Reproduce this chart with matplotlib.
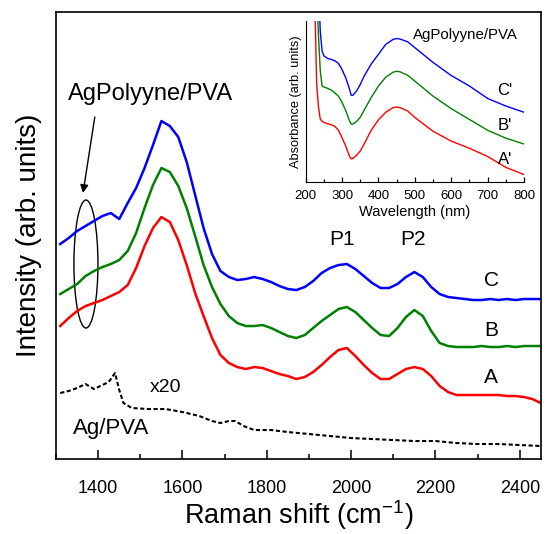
import numpy as np
import matplotlib
matplotlib.use("Agg")
import matplotlib.pyplot as plt
from matplotlib.patches import Ellipse
from matplotlib.ticker import MultipleLocator

plt.rcParams['font.family'] = ['Liberation Sans', 'DejaVu Sans']

# Raman spectra, shift in cm-1, intensity in arbitrary (offset) units
raman_shift = np.arange(1310, 2451, 20)
spec_C = [215, 221, 228, 233, 238, 243, 246, 240, 256, 271,
          291, 314, 338, 333, 322, 297, 264, 231, 205, 188,
          182, 179, 180, 182, 180, 177, 173, 170, 169, 172,
          178, 186, 191, 194, 195, 190, 183, 176, 171, 171,
          175, 182, 187, 182, 172, 165, 162, 161, 160, 159,
          159, 160, 159, 160, 159, 160, 160, 160]
spec_B = [165, 170, 175, 183, 188, 192, 195, 199, 208, 226,
          251, 274, 291, 287, 273, 251, 223, 194, 172, 155,
          143, 136, 133, 133, 134, 131, 127, 123, 121, 124,
          131, 138, 144, 150, 152, 147, 139, 131, 124, 123,
          131, 142, 149, 143, 128, 116, 113, 112, 112, 112,
          113, 112, 112, 113, 112, 113, 113, 113]
spec_A = [133, 141, 148, 153, 156, 159, 163, 167, 174, 191,
          213, 231, 242, 237, 219, 194, 166, 143, 121, 104,
          96, 92, 90, 92, 91, 88, 85, 83, 80, 82,
          87, 94, 102, 109, 111, 103, 94, 86, 80, 80,
          85, 90, 92, 90, 83, 73, 67, 64, 64, 64,
          64, 64, 64, 63, 63, 62, 60, 56]

# Ag/PVA reference spectrum (x20)
ag_shift = [1310, 1330, 1350, 1370, 1390, 1410, 1425, 1440, 1450, 1460,
            1480, 1520, 1560, 1600, 1640, 1670, 1690, 1710, 1725, 1745,
            1770, 1810, 1850, 1900, 1950, 2000, 2050, 2100, 2150, 2200,
            2250, 2300, 2350, 2400, 2450]
ag_spec = [66, 68, 71, 75, 70, 74, 77, 86, 69, 56,
           51, 50, 50, 47, 43, 38, 36, 38, 38, 33,
           29, 29, 27, 25, 23, 21, 20, 19, 18, 18,
           16, 15, 15, 14, 13]

# UV-vis absorbance for the inset
wavelength = [225, 230, 235, 240, 245, 250, 260, 270, 280, 290,
              300, 310, 320, 325, 330, 340, 350, 360, 380, 400,
              420, 440, 450, 460, 480, 500, 550, 600, 650, 700,
              750, 800]
abs_C = [700, 700, 600, 460, 400, 385, 377, 374, 370, 362,
         343, 318, 285, 265, 265, 278, 298, 322, 360, 390,
         420, 435, 438, 436, 428, 410, 365, 325, 293, 255,
         232, 213]
abs_B = [600, 600, 450, 340, 293, 290, 286, 281, 272, 262,
         243, 218, 188, 177, 177, 185, 198, 218, 258, 293,
         320, 335, 338, 336, 326, 308, 262, 224, 191, 158,
         134, 116]
abs_A = [560, 303, 230, 192, 186, 182, 178, 175, 170, 158,
         135, 110, 80, 71, 72, 82, 95, 115, 158, 190,
         213, 227, 229, 227, 217, 197, 155, 125, 103, 78,
         45, 23]

raman_ticks = [1400, 1600, 1800, 2000, 2200, 2400]
uv_ticks = [200, 300, 400, 500, 600, 700, 800]

fig = plt.figure(figsize=(5.53, 5.34), dpi=100)
ax = fig.add_axes([0.1013, 0.1404, 0.8767, 0.8371])

ax.plot(raman_shift, spec_C, color='#0000ff', lw=1.8)
ax.plot(raman_shift, spec_B, color='#008000', lw=1.8)
ax.plot(raman_shift, spec_A, color='#ff0000', lw=1.8)
ax.plot(ag_shift, ag_spec, color='black', lw=1.5, linestyle=(0, (2, 1.2)))

ax.set_xlim(1300, 2450)
ax.set_ylim(0, 447)
ax.set_xticks(raman_ticks)
ax.xaxis.set_minor_locator(MultipleLocator(100))
ax.set_yticks([])
ax.tick_params(axis='x', which='major', direction='in', length=6.5, width=1.1,
               labelsize=13, pad=15)
ax.tick_params(axis='x', which='minor', direction='in', length=3.5, width=1.1)
for sp in ax.spines.values():
    sp.set_linewidth(1.2)

ax.set_xlabel('Raman shift (cm$^{\\mathregular{-1}}$)', fontsize=19.5, labelpad=1)
ax.set_ylabel('Intensity (arb. units)', fontsize=20, labelpad=10)

ax.text(1328, 359, 'AgPolyyne/PVA', fontsize=17, va='baseline')
ax.annotate('', xy=(1364, 266), xytext=(1392, 342),
            arrowprops=dict(arrowstyle='-|>', color='black', lw=1.0,
                            mutation_scale=12, shrinkA=0, shrinkB=0))
ax.add_patch(Ellipse((1371, 195), 57, 128, fill=False, lw=1.0, color='black'))

ax.text(1979, 214, 'P1', fontsize=15, ha='center', va='baseline')
ax.text(2147, 214, 'P2', fontsize=15, ha='center', va='baseline')
ax.text(2332, 179, 'C', fontsize=15, ha='center', va='center')
ax.text(2332, 129, 'B', fontsize=15, ha='center', va='center')
ax.text(2332, 82, 'A', fontsize=15, ha='center', va='center')
ax.text(1560, 72, 'x20', fontsize=14, ha='center', va='center')
ax.text(1340, 31, 'Ag/PVA', fontsize=16, ha='left', va='center')

# inset: absorbance spectra
ins = fig.add_axes([0.5528, 0.659, 0.3948, 0.3015])
ins.plot(wavelength, abs_C, color='#0000ff', lw=1.0)
ins.plot(wavelength, abs_B, color='#008000', lw=1.0)
ins.plot(wavelength, abs_A, color='#ff0000', lw=1.0)
ins.set_xlim(200, 800)
ins.set_ylim(0, 491)
ins.set_xticks(uv_ticks)
ins.xaxis.set_minor_locator(MultipleLocator(50))
ins.set_yticks([])
ins.spines['top'].set_visible(False)
ins.spines['right'].set_visible(False)
ins.tick_params(axis='x', which='major', direction='in', length=3.5, width=0.9,
                labelsize=9.5, pad=6)
ins.tick_params(axis='x', which='minor', direction='in', length=2, width=0.9)
ins.set_xlabel('Wavelength (nm)', fontsize=10.5, labelpad=2)
ins.set_ylabel('Absorbance (arb. units)', fontsize=9.2, labelpad=3)
ins.patch.set_alpha(0)

ins.text(784, 448, 'AgPolyyne/PVA', fontsize=10.8, ha='right', va='center')
ins.text(748, 278, "C'", fontsize=12, ha='center', va='center')
ins.text(748, 173, "B'", fontsize=12, ha='center', va='center')
ins.text(748, 68, "A'", fontsize=12, ha='center', va='center')

fig.savefig('out.png', dpi=100)
